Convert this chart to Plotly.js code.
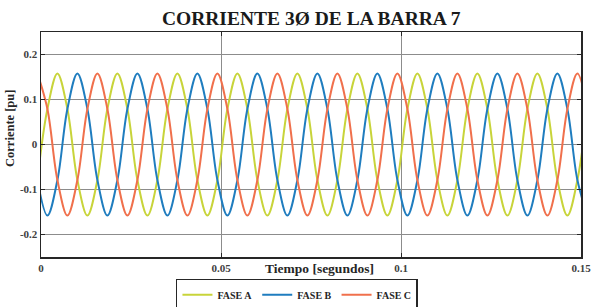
<!DOCTYPE html>
<html>
<head>
<meta charset="utf-8">
<script src="https://cdn.plot.ly/plotly-3.0.1.min.js"></script>
<style>html,body{margin:0;padding:0;background:#fff;}#chart{width:595px;height:307px;}</style>
</head>
<body>
<div id="chart"></div>
<script>
// Sample times (s), one sample every 60 electrical degrees at 60 Hz
const tiempo = [-0.00100,0.00178,0.00456,0.00733,0.01011,0.01289,0.01567,0.01844,0.02122,0.02400,
  0.02678,0.02956,0.03233,0.03511,0.03789,0.04067,0.04344,0.04622,0.04900,0.05178,
  0.05456,0.05733,0.06011,0.06289,0.06567,0.06844,0.07122,0.07400,0.07678,0.07956,
  0.08233,0.08511,0.08789,0.09067,0.09344,0.09622,0.09900,0.10178,0.10456,0.10733,
  0.11011,0.11289,0.11567,0.11844,0.12122,0.12400,0.12678,0.12956,0.13233,0.13511,
  0.13789,0.14067,0.14344,0.14622,0.14900,0.15178];

// Phase currents (pu)
const faseA = [-0.079,0.079,0.158,0.079,-0.079,-0.158, -0.079,0.079,0.158,0.079,-0.079,-0.158,
  -0.079,0.079,0.158,0.079,-0.079,-0.158, -0.079,0.079,0.158,0.079,-0.079,-0.158,
  -0.079,0.079,0.158,0.079,-0.079,-0.158, -0.079,0.079,0.158,0.079,-0.079,-0.158,
  -0.079,0.079,0.158,0.079,-0.079,-0.158, -0.079,0.079,0.158,0.079,-0.079,-0.158,
  -0.079,0.079,0.158,0.079,-0.079,-0.158, -0.079,0.079];
const faseB = [-0.079,-0.158,-0.079,0.079,0.158,0.079, -0.079,-0.158,-0.079,0.079,0.158,0.079,
  -0.079,-0.158,-0.079,0.079,0.158,0.079, -0.079,-0.158,-0.079,0.079,0.158,0.079,
  -0.079,-0.158,-0.079,0.079,0.158,0.079, -0.079,-0.158,-0.079,0.079,0.158,0.079,
  -0.079,-0.158,-0.079,0.079,0.158,0.079, -0.079,-0.158,-0.079,0.079,0.158,0.079,
  -0.079,-0.158,-0.079,0.079,0.158,0.079, -0.079,-0.158];
const faseC = [0.158,0.079,-0.079,-0.158,-0.079,0.079, 0.158,0.079,-0.079,-0.158,-0.079,0.079,
  0.158,0.079,-0.079,-0.158,-0.079,0.079, 0.158,0.079,-0.079,-0.158,-0.079,0.079,
  0.158,0.079,-0.079,-0.158,-0.079,0.079, 0.158,0.079,-0.079,-0.158,-0.079,0.079,
  0.158,0.079,-0.079,-0.158,-0.079,0.079, 0.158,0.079,-0.079,-0.158,-0.079,0.079,
  0.158,0.079,-0.079,-0.158,-0.079,0.079, 0.158,0.079];

const nombres = ['FASE A','FASE B','FASE C'];
const colores = ['#c8d43a','#1f7dbf','#f0704c'];

const xTickVals = [0,0.05,0.1,0.15];
const xTickText = ['0','0.05','0.1','0.15'];
const yTickVals = [-0.2,-0.1,0,0.1,0.2];
const yTickText = ['-0.2','-0.1','0','0.1','0.2'];

const serie = [faseA, faseB, faseC];
const traces = serie.map((y,i)=>({
  x: tiempo, y: y, type:'scatter', mode:'lines', name: nombres[i],
  line:{color: colores[i], width:2, shape:'spline', smoothing:1}
}));

const FAM = 'Liberation Serif, Times New Roman, serif';
const tickFont = {family:FAM, size:11, color:'#404040', weight:'bold'};
const layout = {
  width:595, height:307,
  margin:{l:41, r:14, t:32, b:50, autoexpand:false},
  paper_bgcolor:'#fff', plot_bgcolor:'#fff',
  title:{text:'CORRIENTE 3Ø DE LA BARRA 7', x:0.523, xanchor:'center', y:0.94, yanchor:'middle',
    font:{family:FAM, size:19.5, color:'#1a1a1a', weight:'bold'}},
  showlegend:true,
  legend:{orientation:'h', x:0.474, xanchor:'center', yref:'container', y:0.04, yanchor:'middle',
    font:{family:FAM, size:10, color:'#262626', weight:'bold'},
    bordercolor:'#262626', borderwidth:1.5, bgcolor:'#fff', itemwidth:30, traceorder:'normal'},
  xaxis:{range:[0,0.15], tickvals:xTickVals, ticktext:xTickText, tickfont:tickFont,
    showgrid:true, gridcolor:'#8c8c8c', gridwidth:1, zeroline:false,
    showline:true, linecolor:'#262626', linewidth:1.5, mirror:'allticks',
    ticks:'inside', ticklen:4, tickcolor:'#262626', fixedrange:true},
  yaxis:{range:[-0.25,0.25], tickvals:yTickVals, ticktext:yTickText, tickfont:tickFont,
    showgrid:true, gridcolor:'#8c8c8c', gridwidth:1, zeroline:false,
    showline:true, linecolor:'#262626', linewidth:1.5, mirror:'allticks',
    ticks:'inside', ticklen:4, tickcolor:'#262626', fixedrange:true},
  annotations:[
    {text:'Tiempo [segundos]', xref:'paper', yref:'paper', x:0.515, y:-0.053, xanchor:'center', yanchor:'middle',
     showarrow:false, font:{family:FAM, size:13.5, color:'#262626', weight:'bold'}},
    {text:'Corriente [pu]', xref:'paper', yref:'paper', x:-0.057, y:0.57, xanchor:'center', yanchor:'middle', textangle:-90,
     showarrow:false, font:{family:FAM, size:12.5, color:'#262626', weight:'bold'}}
  ]
};
Plotly.newPlot('chart', traces, layout, {displayModeBar:false, staticPlot:true});
</script>
</body>
</html>
